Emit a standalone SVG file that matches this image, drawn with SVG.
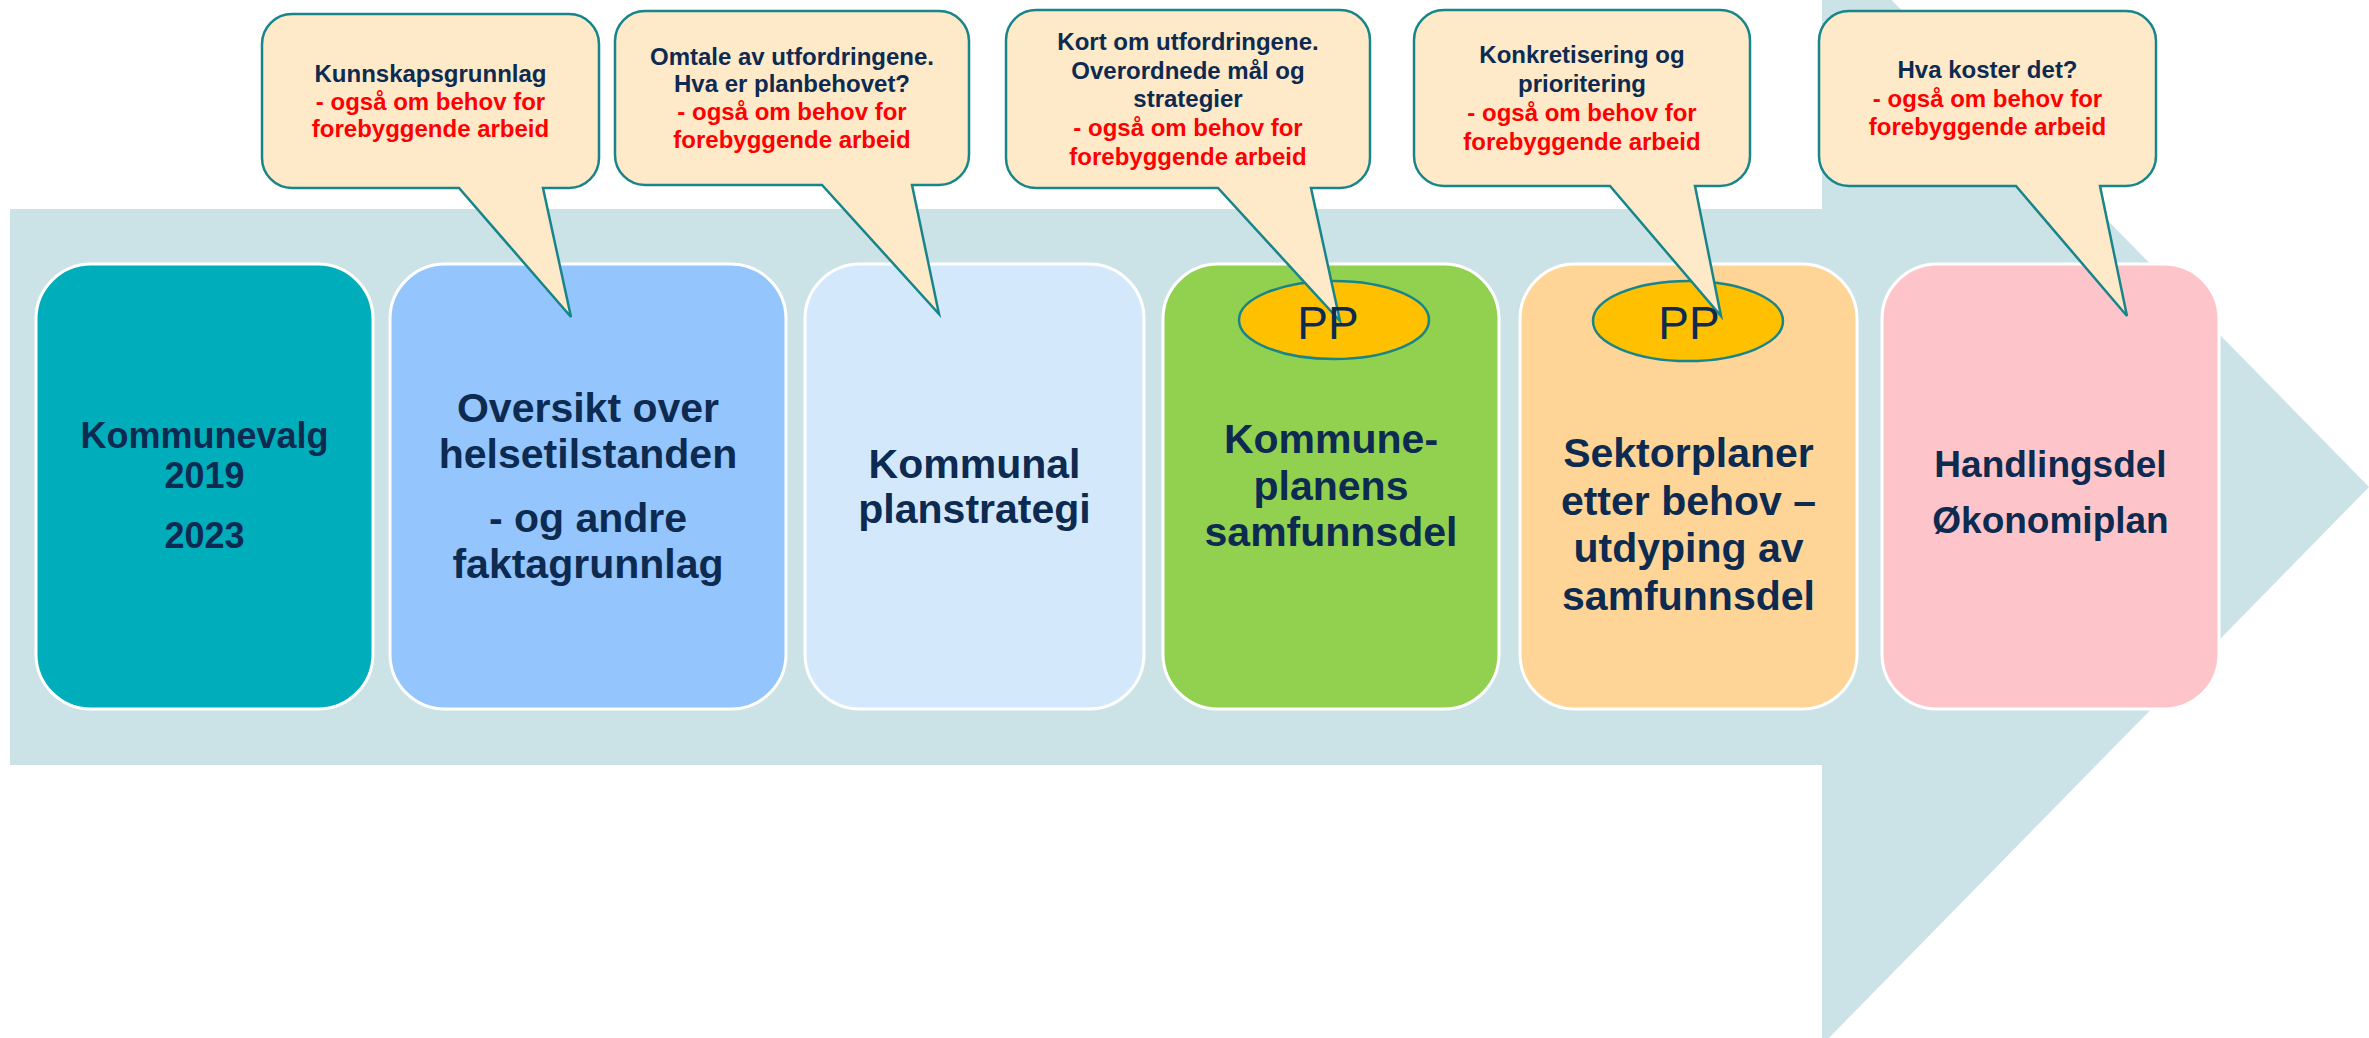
<svg xmlns="http://www.w3.org/2000/svg" width="2369" height="1038" viewBox="0 0 2369 1038">
<style>
.box{stroke:#FFFFFF;stroke-width:3}
.bub{fill:#FEE9C9;stroke:#17858A;stroke-width:2.5;stroke-linejoin:miter}
.pp{fill:#FFC000;stroke:#17858A;stroke-width:2.5}
.bt{font-family:"Liberation Sans",Arial,sans-serif;font-weight:bold;font-size:24px;text-anchor:middle}
.nv{fill:#0D2A50}
.rd{fill:#FF0000}
.mt{font-family:"Liberation Sans",Arial,sans-serif;font-weight:bold;text-anchor:middle;fill:#0D2A50}
.ppt{font-family:"Liberation Sans",Arial,sans-serif;font-size:46px;text-anchor:middle;fill:#0D2A50}
</style>
<rect width="2369" height="1038" fill="#FFFFFF"/>
<g id="arrow">
<polygon points="10,209 1822,209 1822,-71 2369,487 1822,1045 1822,765 10,765" fill="#CBE3E7"/>
</g>
<g id="node-kommunevalg">
<rect class="box" x="36" y="264" width="337" height="445" rx="55" ry="55" fill="#00ADBA"/>
<text class="mt" font-size="36" x="204.5"><tspan x="204.5" y="448">Kommunevalg</tspan><tspan x="204.5" y="488">2019</tspan><tspan x="204.5" y="548">2023</tspan></text>
</g>
<g id="node-oversikt">
<rect class="box" x="390" y="264" width="396" height="445" rx="55" ry="55" fill="#94C5FC"/>
<text class="mt" font-size="41"><tspan x="588" y="422">Oversikt over</tspan><tspan x="588" y="468">helsetilstanden</tspan><tspan x="588" y="532">- og andre</tspan><tspan x="588" y="578">faktagrunnlag</tspan></text>
</g>
<g id="node-planstrategi">
<rect class="box" x="805" y="264" width="339" height="445" rx="55" ry="55" fill="#D4E8FC"/>
<text class="mt" font-size="41"><tspan x="974.5" y="478">Kommunal</tspan><tspan x="974.5" y="523">planstrategi</tspan></text>
</g>
<g id="node-samfunnsdel">
<rect class="box" x="1163" y="264" width="336" height="445" rx="55" ry="55" fill="#92D050"/>
<ellipse class="pp" cx="1334" cy="320" rx="95" ry="39"/>
<text class="mt" font-size="41"><tspan x="1331" y="453">Kommune-</tspan><tspan x="1331" y="500">planens</tspan><tspan x="1331" y="546">samfunnsdel</tspan></text>
</g>
<g id="node-sektorplaner">
<rect class="box" x="1520" y="264" width="337" height="445" rx="55" ry="55" fill="#FED597"/>
<ellipse class="pp" cx="1688" cy="321" rx="95" ry="40"/>
<text class="mt" font-size="41"><tspan x="1688.5" y="467">Sektorplaner</tspan><tspan x="1688.5" y="515">etter behov –</tspan><tspan x="1688.5" y="562">utdyping av</tspan><tspan x="1688.5" y="610">samfunnsdel</tspan></text>
</g>
<g id="node-handlingsdel">
<rect class="box" x="1882" y="264" width="337" height="445" rx="55" ry="55" fill="#FDC5CA"/>
<text class="mt" font-size="37"><tspan x="2050.5" y="477">Handlingsdel</tspan><tspan x="2050.5" y="533">Økonomiplan</tspan></text>
</g>
<g id="callouts">
<g id="callout-1">
<path class="bub" d="M292,14 H569 A30,30 0 0 1 599,44 V158 A30,30 0 0 1 569,188 H543 L571,317 L459,188 H292 A30,30 0 0 1 262,158 V44 A30,30 0 0 1 292,14 Z"/>
<text class="bt"><tspan class="nv" x="430.5" y="82">Kunnskapsgrunnlag</tspan><tspan class="rd" x="430.5" y="110">- også om behov for</tspan><tspan class="rd" x="430.5" y="137">forebyggende arbeid</tspan></text>
</g>
<g id="callout-2">
<path class="bub" d="M645,11 H939 A30,30 0 0 1 969,41 V155 A30,30 0 0 1 939,185 H912 L939,314 L822,185 H645 A30,30 0 0 1 615,155 V41 A30,30 0 0 1 645,11 Z"/>
<text class="bt"><tspan class="nv" x="792" y="65">Omtale av utfordringene.</tspan><tspan class="nv" x="792" y="92">Hva er planbehovet?</tspan><tspan class="rd" x="792" y="120">- også om behov for</tspan><tspan class="rd" x="792" y="148">forebyggende arbeid</tspan></text>
</g>
<g id="callout-3">
<path class="bub" d="M1036,10 H1340 A30,30 0 0 1 1370,40 V158 A30,30 0 0 1 1340,188 H1311 L1340,321 L1218,188 H1036 A30,30 0 0 1 1006,158 V40 A30,30 0 0 1 1036,10 Z"/>
<text class="bt"><tspan class="nv" x="1188" y="50">Kort om utfordringene.</tspan><tspan class="nv" x="1188" y="79">Overordnede mål og</tspan><tspan class="nv" x="1188" y="107">strategier</tspan><tspan class="rd" x="1188" y="136">- også om behov for</tspan><tspan class="rd" x="1188" y="165">forebyggende arbeid</tspan></text>
</g>
<g id="callout-4">
<path class="bub" d="M1444,10 H1720 A30,30 0 0 1 1750,40 V156 A30,30 0 0 1 1720,186 H1695 L1721,316 L1610,186 H1444 A30,30 0 0 1 1414,156 V40 A30,30 0 0 1 1444,10 Z"/>
<text class="bt"><tspan class="nv" x="1582" y="63">Konkretisering og</tspan><tspan class="nv" x="1582" y="92">prioritering</tspan><tspan class="rd" x="1582" y="121">- også om behov for</tspan><tspan class="rd" x="1582" y="150">forebyggende arbeid</tspan></text>
</g>
<g id="callout-5">
<path class="bub" d="M1849,11 H2126 A30,30 0 0 1 2156,41 V156 A30,30 0 0 1 2126,186 H2100 L2127,316 L2016,186 H1849 A30,30 0 0 1 1819,156 V41 A30,30 0 0 1 1849,11 Z"/>
<text class="bt"><tspan class="nv" x="1987.5" y="78">Hva koster det?</tspan><tspan class="rd" x="1987.5" y="107">- også om behov for</tspan><tspan class="rd" x="1987.5" y="135">forebyggende arbeid</tspan></text>
</g>
</g>
<g id="pp-labels">
<text class="ppt" x="1328" y="339">PP</text>
<text class="ppt" x="1689" y="339">PP</text>
</g>
</svg>
